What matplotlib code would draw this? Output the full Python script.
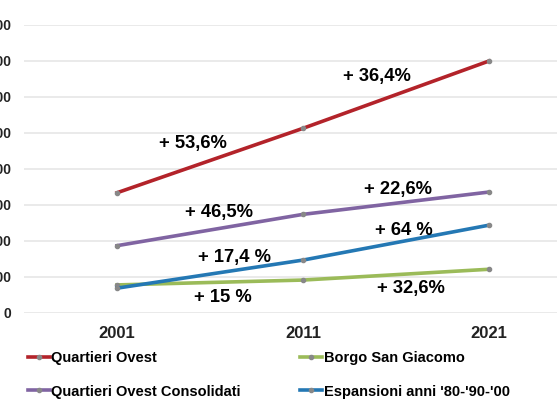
import matplotlib.pyplot as plt

years = ["2001", "2011", "2021"]
quartieri_ovest = [3340, 5130, 7000]
consolidati = [1870, 2740, 3360]
borgo = [780, 915, 1215]
espansioni = [690, 1470, 2440]
yticks = [0, 1000, 2000, 3000, 4000, 5000, 6000, 7000, 8000]

# label text, x category, y value
labels = [
    ("+ 53,6%", 0.41, 4720),
    ("+ 46,5%", 0.55, 2780),
    ("+ 17,4 %", 0.63, 1530),
    ("+ 15 %", 0.57, 420),
    ("+ 36,4%", 1.4, 6560),
    ("+ 22,6%", 1.51, 3440),
    ("+ 64 %", 1.54, 2300),
    ("+ 32,6%", 1.58, 690),
]

plt.rcParams["font.family"] = ["Liberation Sans", "DejaVu Sans"]
plt.rcParams["font.weight"] = "bold"

fig = plt.figure(figsize=(5.57, 3.99), dpi=100)
W, H = 557, 399
ax = fig.add_axes([24 / W, (H - 313) / H, 558 / W, 288 / H])

x = range(len(years))
series = [
    ("Quartieri Ovest", quartieri_ovest, "#B3232A"),
    ("Quartieri Ovest Consolidati", consolidati, "#8064A2"),
    ("Borgo San Giacomo", borgo, "#9BBB59"),
    ("Espansioni anni '80-'90-'00", espansioni, "#2478B4"),
]
handles = []
for name, vals, col in series:
    (h,) = ax.plot(x, vals, color=col, lw=2.6, marker="o", ms=3,
                   mfc="#888888", mec="#888888", label=name, zorder=3)
    handles.append(h)

for txt, xv, yv in labels:
    ax.text(xv, yv, txt, ha="center", va="center", fontsize=13.2,
            fontweight="bold", color="black", zorder=4)

ax.set_xlim(-0.5, 2.5)
ax.set_ylim(0, 8000)
ax.set_xticks(list(x))
ax.set_xticklabels(years)
ax.set_yticks(yticks)
ax.set_yticklabels([str(v) for v in yticks])
ax.grid(axis="y", color="#E6E6E6", lw=1.2)
ax.set_axisbelow(True)
for s in ax.spines.values():
    s.set_visible(False)
ax.tick_params(length=0, colors="#222222")
ax.tick_params(axis="y", pad=9, labelsize=10)
ax.tick_params(axis="x", pad=9, labelsize=12)

fig.legend(handles=handles, ncol=2, loc="upper left",
           bbox_to_anchor=(22 / W, (H - 345) / H), frameon=False,
           fontsize=10.5, handlelength=1.5, handletextpad=0.1,
           columnspacing=4.1, labelspacing=1.35, borderaxespad=0)

fig.savefig("out.png", dpi=100, facecolor="white")
